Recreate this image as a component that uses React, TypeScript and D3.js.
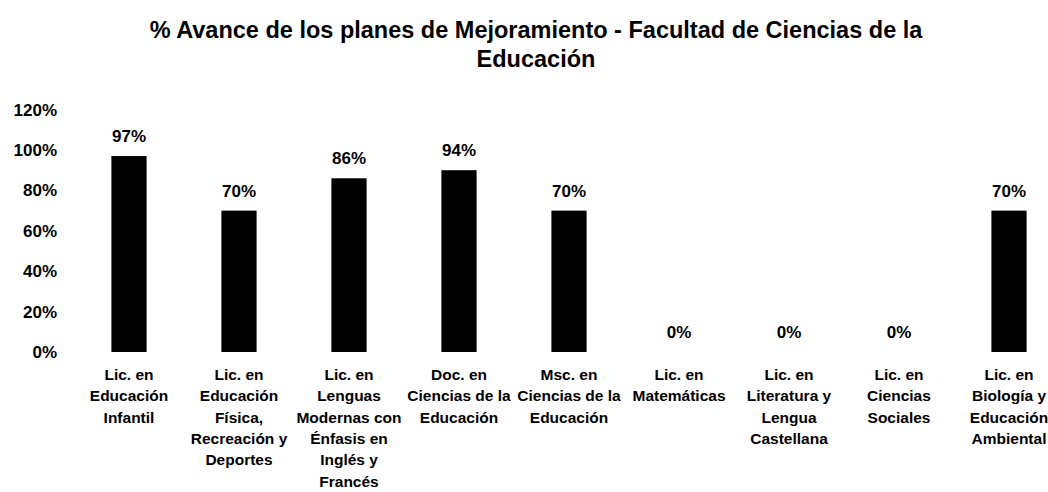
import React from "react";
import * as d3 from "d3";

const titleLines = [
  "% Avance de los planes de Mejoramiento - Facultad de Ciencias de la",
  "Educación",
];

const categories = [
  ["Lic. en", "Educación", "Infantil"],
  ["Lic. en", "Educación", "Física,", "Recreación y", "Deportes"],
  ["Lic. en", "Lenguas", "Modernas con", "Énfasis en", "Inglés y", "Francés"],
  ["Doc. en", "Ciencias de la", "Educación"],
  ["Msc. en", "Ciencias de la", "Educación"],
  ["Lic. en", "Matemáticas"],
  ["Lic. en", "Literatura y", "Lengua", "Castellana"],
  ["Lic. en", "Ciencias", "Sociales"],
  ["Lic. en", "Biología y", "Educación", "Ambiental"],
];

// bar heights
const values = [97, 70, 86, 90, 70, 0, 0, 0, 70];
// data labels as printed on the picture
const dataLabels = ["97%", "70%", "86%", "94%", "70%", "0%", "0%", "0%", "70%"];

const yTicks = [0, 20, 40, 60, 80, 100, 120];

const W = 1048;
const H = 492;
const FONT = "'Liberation Sans', Arial, sans-serif";

export default function App() {
  const ids = categories.map((_, i) => String(i));
  const x = d3
    .scaleBand<string>()
    .domain(ids)
    .range([74, 1064])
    .paddingInner(0.68)
    .paddingOuter(0.34);
  const y = d3.scaleLinear().domain([0, 100]).range([352, 150]);

  return (
    <svg
      width={W}
      height={H}
      style={{ position: "absolute", left: 0, top: 0, background: "#fff" }}
      fontFamily={FONT}
    >
      <rect x={0} y={0} width={W} height={H} fill="#fff" />
      {titleLines.map((t, i) => (
        <text
          key={i}
          x={536}
          y={38 + i * 29}
          textAnchor="middle"
          fontSize={23.5}
          fontWeight="bold"
          fill="#000"
        >
          {t}
        </text>
      ))}
      {yTicks.map((t) => (
        <text
          key={t}
          x={57}
          y={y(t)}
          dy="0.35em"
          textAnchor="end"
          fontSize={17}
          fontWeight="bold"
          fill="#000"
        >
          {t}%
        </text>
      ))}
      {values.map((v, i) => (
        <rect
          key={i}
          x={x(ids[i])}
          y={y(v)}
          width={x.bandwidth()}
          height={y(0) - y(v)}
          fill="#000"
        />
      ))}
      {values.map((v, i) => (
        <text
          key={i}
          x={(x(ids[i]) as number) + x.bandwidth() / 2}
          y={y(v) - 14}
          textAnchor="middle"
          fontSize={17}
          fontWeight="bold"
          fill="#000"
        >
          {dataLabels[i]}
        </text>
      ))}
      {categories.map((lines, i) => (
        <text
          key={i}
          x={(x(ids[i]) as number) + x.bandwidth() / 2}
          y={380}
          textAnchor="middle"
          fontSize={15.5}
          fontWeight="bold"
          fill="#000"
        >
          {lines.map((l, j) => (
            <tspan key={j} x={(x(ids[i]) as number) + x.bandwidth() / 2} y={380 + j * 21.3}>
              {l}
            </tspan>
          ))}
        </text>
      ))}
    </svg>
  );
}
